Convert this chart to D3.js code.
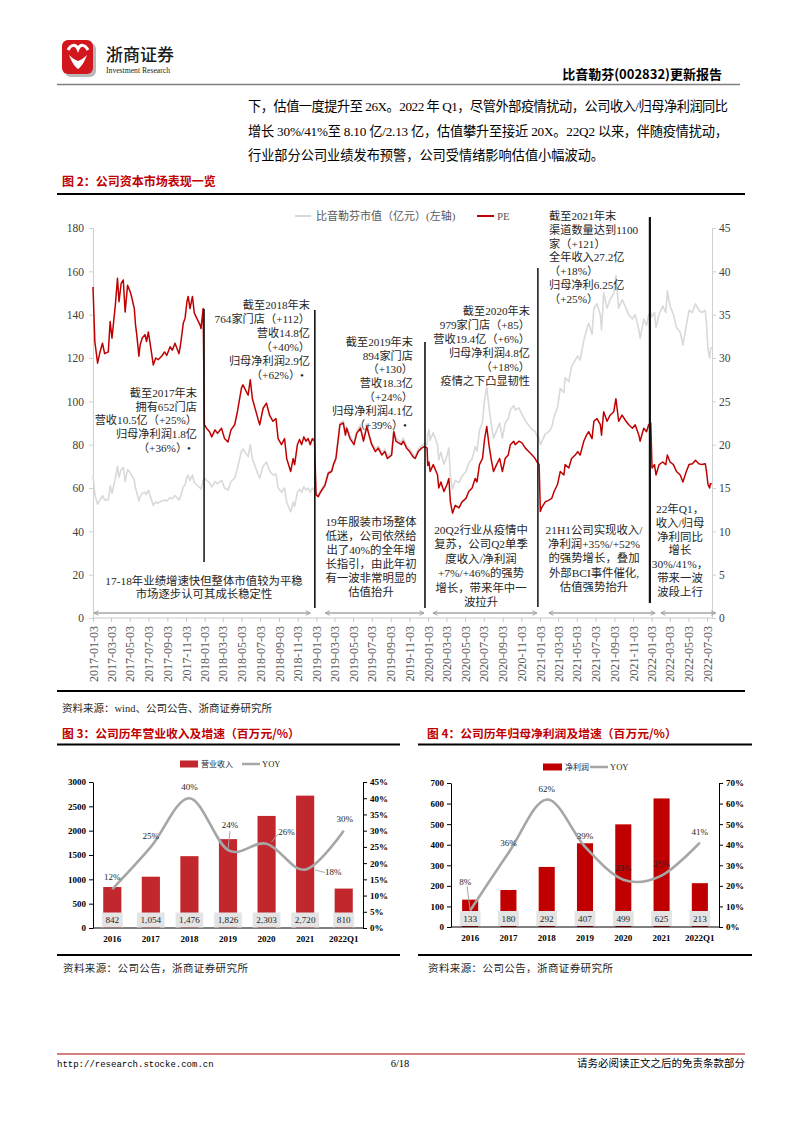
<!DOCTYPE html>
<html><head><meta charset="utf-8">
<script src="https://cdn.jsdelivr.net/npm/d3@7/dist/d3.min.js"></script>
<style>body{margin:0;background:#fff}svg{display:block}</style>
</head><body>
<svg id="page" width="793" height="1122"></svg>
<script>
// ---------------- DATA ----------------
// Figure 2: samples
const tradeDates = [
 // 2017
 "2017-01-03","2017-01-09","2017-01-18","2017-01-26","2017-02-03","2017-02-10","2017-02-22","2017-02-28","2017-03-06","2017-03-17",
 "2017-03-24","2017-03-29","2017-04-05","2017-04-12","2017-04-18","2017-04-26","2017-05-04","2017-05-09","2017-05-18","2017-05-22",
 "2017-05-26","2017-06-02","2017-06-06","2017-06-13","2017-06-22","2017-06-27","2017-07-03","2017-07-12","2017-07-19","2017-07-27",
 "2017-08-04","2017-08-15","2017-08-25","2017-09-01","2017-09-12","2017-09-19","2017-09-28","2017-10-11","2017-10-16","2017-10-25",
 "2017-10-31","2017-11-06","2017-11-10","2017-11-16","2017-11-24","2017-11-30","2017-12-08","2017-12-19","2017-12-22","2017-12-29",
 // 2018
 "2018-01-02","2018-01-09","2018-01-19","2018-01-26","2018-02-06","2018-02-14","2018-02-27","2018-03-09","2018-03-20","2018-03-30",
 "2018-04-11","2018-04-20","2018-05-03","2018-05-08","2018-05-25","2018-06-01","2018-06-08","2018-06-26","2018-07-02","2018-07-13",
 "2018-07-24","2018-08-03","2018-08-14","2018-08-24","2018-08-31","2018-09-11","2018-09-21","2018-09-28","2018-10-11","2018-10-19",
 "2018-10-24","2018-11-02","2018-11-09","2018-11-16","2018-11-23","2018-11-30","2018-12-07","2018-12-14","2018-12-21","2018-12-28",
 // 2019
 "2019-01-02","2019-01-09","2019-01-18","2019-01-31","2019-02-11","2019-02-22","2019-02-28","2019-03-08","2019-03-21","2019-04-01",
 "2019-04-08","2019-04-12","2019-04-23","2019-05-06","2019-05-15","2019-05-27","2019-06-06","2019-06-17","2019-06-24","2019-07-03",
 "2019-07-15","2019-07-24","2019-08-05","2019-08-15","2019-08-23","2019-09-06","2019-09-13","2019-09-20","2019-10-08","2019-10-14",
 "2019-10-25","2019-11-04","2019-11-15","2019-11-22","2019-12-02","2019-12-13","2019-12-23","2019-12-31",
 // 2020
 "2020-01-02","2020-01-06","2020-01-10","2020-01-20","2020-02-03","2020-02-07","2020-02-14","2020-02-24","2020-03-05","2020-03-11",
 "2020-03-16","2020-03-23","2020-04-01","2020-04-13","2020-04-23","2020-05-06","2020-05-15","2020-05-26","2020-06-05","2020-06-11",
 "2020-06-19","2020-06-29","2020-07-06","2020-07-13","2020-07-20","2020-07-27","2020-08-04","2020-08-14","2020-08-24","2020-09-02",
 "2020-09-11","2020-09-21","2020-09-28","2020-10-09","2020-10-14","2020-10-26","2020-11-05","2020-11-16","2020-11-27","2020-12-08",
 "2020-12-18","2020-12-24","2020-12-31",
 // 2021
 "2021-01-04","2021-01-08","2021-01-20","2021-02-01","2021-02-10","2021-02-18","2021-03-01","2021-03-10","2021-03-22","2021-03-26",
 "2021-04-07","2021-04-16","2021-04-28","2021-05-06","2021-05-14","2021-05-26","2021-06-04","2021-06-11","2021-06-22","2021-06-28",
 "2021-07-08","2021-07-19","2021-07-23","2021-07-30","2021-08-10","2021-08-20","2021-09-01","2021-09-08","2021-09-17","2021-09-28",
 "2021-10-11","2021-10-20","2021-11-01","2021-11-10","2021-11-22","2021-11-26","2021-12-08","2021-12-17","2021-12-24","2021-12-31",
 // 2022
 "2022-01-04","2022-01-12","2022-01-17","2022-01-27","2022-02-08","2022-02-18","2022-02-23","2022-03-04","2022-03-15","2022-03-25",
 "2022-04-06","2022-04-15","2022-04-26","2022-05-05","2022-05-16","2022-05-26","2022-06-06","2022-06-16","2022-06-27","2022-07-01",
 "2022-07-06","2022-07-11","2022-07-14","2022-07-18"
];
// 比音勒芬市值（亿元）
const marketCap = [
 66.0,57.0,52.5,54.5,56.5,54.5,54.5,61.0,57.5,64.5, 70.0,65.0,68.5,69.5,63.0,68.5,67.0,66.0,63.5,60.0,
 58.0,54.0,56.0,57.5,58.0,57.0,59.0,55.0,52.0,53.5, 53.0,54.0,54.5,54.0,55.5,55.0,56.5,54.5,56.0,60.5,
 61.5,65.0,66.0,63.5,66.0,62.5,61.5,60.0,59.5,63.5,
 64.5,63.5,62.5,60.5,63.0,62.0,63.5,60.0,59.0,63.0, 64.5,69.0,77.0,78.0,74.5,80.0,73.5,66.5,64.5,70.0,
 72.0,68.0,66.0,66.5,60.0,58.0,60.0,53.5,49.0,53.5, 51.5,58.0,59.5,58.0,60.5,59.0,60.0,58.0,60.0,59.0,
 57.5,57.0,59.0,62.0,67.5,68.5,71.5,74.5,90.0,91.0, 85.5,88.5,84.0,81.0,86.5,89.0,82.5,89.5,85.5,81.0,
 78.0,79.5,76.5,78.0,74.5,76.5,87.0,83.0,81.0,83.0, 79.5,78.0,75.5,74.5,78.0,79.5,80.5,80.0,
 84.5,87.0,82.0,85.5,80.0,73.0,76.5,71.0,75.0,78.5, 65.5,59.5,63.5,62.5,65.5,67.5,71.5,73.5,79.0,77.0,
 86.5,90.5,101.0,106.5,97.5,90.0,83.0,86.5,90.0,83.0, 90.0,92.0,96.0,98.0,96.0,97.0,94.0,91.0,89.0,87.0,
 86.0,84.0,83.0,
 80.0,81.0,85.0,86.0,88.0,93.0,97.0,106.0,104.0,111.0, 109.0,116.0,119.0,121.0,119.0,128.0,133.0,136.0,131.0,143.0,
 145.0,140.0,133.0,150.0,143.0,147.0,150.0,158.0,143.0,147.0, 143.0,140.0,138.0,140.0,133.0,129.0,138.0,135.0,140.0,141.0,
 139.0,141.0,134.0,140.0,144.0,141.0,151.0,144.0,140.0,134.0, 132.0,126.0,135.0,142.0,141.0,145.0,142.0,141.0,142.0,136.0,
 124.0,120.0,124.0,125.0
];
// PE
const peRatio = [
 38.2,31.9,29.4,30.7,31.7,30.5,30.7,34.2,32.3,36.1, 39.2,36.5,38.6,39.0,35.3,38.4,37.7,37.1,35.7,33.8,
 32.7,30.2,31.5,32.3,32.7,31.9,33.0,30.9,29.2,30.0, 29.8,30.2,30.7,30.3,31.3,30.9,31.7,30.5,31.5,34.0,
 34.6,36.5,37.1,35.7,37.1,35.2,34.6,33.8,33.4,35.7,
 22.3,21.9,21.5,20.9,21.7,21.3,21.9,20.7,20.3,21.7, 22.3,23.8,26.5,26.9,25.7,27.5,25.3,23.0,22.3,24.2,
 24.8,23.4,22.7,23.0,20.7,20.0,20.7,18.4,16.9,18.4, 17.7,20.0,20.6,20.0,20.9,20.4,20.7,20.0,20.7,20.4,
 14.2,14.0,14.6,15.3,16.7,16.9,17.7,18.4,22.3,22.5, 21.1,21.9,20.7,20.0,21.3,21.9,20.4,22.1,21.1,20.0,
 19.2,19.6,18.8,19.2,18.4,18.8,21.5,20.4,20.0,20.4, 19.6,19.2,18.6,18.4,19.2,19.6,19.8,19.6,
 17.6,18.0,16.9,17.7,16.5,15.0,15.7,14.6,15.4,16.1, 13.4,12.1,13.0,12.7,13.4,13.8,14.6,15.0,16.1,15.7,
 17.7,18.4,20.7,22.1,20.0,18.4,16.9,17.7,18.4,16.9, 18.4,18.8,20.0,20.4,20.0,20.4,20.2,19.6,19.2,18.8,
 18.4,18.0,17.7,
 12.3,12.7,13.4,13.6,13.8,14.6,15.4,16.9,16.5,17.7, 17.3,18.4,18.8,19.2,18.8,20.4,21.1,21.5,20.7,22.7,
 23.0,22.3,21.1,23.8,22.7,23.4,23.8,25.3,22.7,23.4, 22.7,22.3,21.9,22.3,21.1,20.4,21.9,21.5,22.3,22.5,
 17.3,17.7,16.5,17.7,18.0,17.7,18.8,18.0,17.7,16.9, 16.5,15.7,16.9,17.7,17.8,18.2,17.8,17.7,17.8,16.9,
 15.4,15.0,15.5,15.5
];
const leftTicks = [0,20,40,60,80,100,120,140,160,180];
const rightTicks = [0,5,10,15,20,25,30,35,40,45];
const xTickLabels = ["2017-01-03","2017-03-03","2017-05-03","2017-07-03","2017-09-03","2017-11-03",
 "2018-01-03","2018-03-03","2018-05-03","2018-07-03","2018-09-03","2018-11-03",
 "2019-01-03","2019-03-03","2019-05-03","2019-07-03","2019-09-03","2019-11-03",
 "2020-01-03","2020-03-03","2020-05-03","2020-07-03","2020-09-03","2020-11-03",
 "2021-01-03","2021-03-03","2021-05-03","2021-07-03","2021-09-03","2021-11-03",
 "2022-01-03","2022-03-03","2022-05-03","2022-07-03"];

const ann2017 = ["截至2017年末","拥有652门店","营收10.5亿（+25%）","归母净利润1.8亿","（+36%）•"];
const ann2018 = ["截至2018年末","764家门店（+112）","营收14.8亿","（+40%）","归母净利润2.9亿","（+62%）•"];
const ann2019 = ["截至2019年末","894家门店","（+130）","营收18.3亿","（+24%）","归母净利润4.1亿","（+39%）•"];
const ann2020 = ["截至2020年末","979家门店（+85）","营收19.4亿（+6%）","归母净利润4.8亿","（+18%）","疫情之下凸显韧性"];
const ann2021 = ["截至2021年末","渠道数量达到1100","家（+121）","全年收入27.2亿","（+18%）","归母净利6.25亿","（+25%）"];
const note1 = ["17-18年业绩增速快但整体市值较为平稳","市场逐步认可其成长稳定性"];
const note2 = ["19年服装市场整体","低迷，公司依然给","出了40%的全年增","长指引，由此年初","有一波非常明显的","估值抬升"];
const note3 = ["20Q2行业从疫情中","复苏，公司Q2单季","度收入/净利润","+7%/+46%的强势","增长，带来年中一","波拉升"];
const note4 = ["21H1公司实现收入/","净利润+35%/+52%","的强势增长，叠加","外部BCI事件催化,","估值强势抬升"];
const note5 = ["22年Q1，","收入/归母","净利同比","增长","30%/41%，","带来一波","波段上行"];

// Figures 3 & 4
const years = ["2016","2017","2018","2019","2020","2021","2022Q1"];
const revenue = [842,1054,1476,1826,2303,2720,810];
const revenueYoY = [12,25,40,24,26,18,30];
const netProfit = [133,180,292,407,499,625,213];
const profitYoY = [8,36,62,39,23,25,41];

const paragraph = [
 "下，估值一度提升至 26X。2022 年 Q1，尽管外部疫情扰动，公司收入/归母净利润同比",
 "增长 30%/41%至 8.10 亿/2.13 亿，估值攀升至接近 20X。22Q2 以来，伴随疫情扰动，",
 "行业部分公司业绩发布预警，公司受情绪影响估值小幅波动。"
];

// ---------------- DRAW ----------------
const svg = d3.select("#page");
const SERIF = "'Liberation Serif','Noto Sans CJK SC',serif";
const HEI = "'Noto Sans CJK SC',sans-serif";
const parse = d3.timeParse("%Y-%m-%d");

function txt(x, y, s, o = {}) {
  const t = svg.append("text").attr("x", x).attr("y", y).text(s)
    .attr("font-family", o.ff || SERIF).attr("font-size", o.fs || 11)
    .attr("fill", o.fill || "#262626").attr("text-anchor", o.anchor || "start");
  if (o.fw) t.attr("font-weight", o.fw);
  if (o.dy) t.attr("dy", o.dy);
  if (o.tl) t.attr("textLength", o.tl).attr("lengthAdjust", o.la || "spacing");
  if (o.ls) t.attr("letter-spacing", o.ls);
  return t;
}
function block(lines, x, y0, lh, anchor, fs) {
  lines.forEach((s, i) => {
    const dotted = s.endsWith("•");
    txt(anchor === "end" && dotted ? x - 6 : x, y0 + i * lh, s, {anchor, fs, dy: "0.35em"});
  });
}

// Header
svg.append("rect").attr("x", 65).attr("y", 43).attr("width", 31).attr("height", 34).attr("rx", 6).attr("fill", "#b8b8b8");
svg.append("rect").attr("x", 62).attr("y", 40).attr("width", 31).attr("height", 34).attr("rx", 6).attr("fill", "#D2161E");
svg.append("path").attr("d", "M68,50 C71,44 76,44 78,49 C80,44 85,44 88,50").attr("fill", "none").attr("stroke", "#fff").attr("stroke-width", 3);
svg.append("path").attr("d", "M69,55 C72,63 75,67 78,69 C81,67 84,63 87,55 C84,58 81,60 78,61 C75,60 72,58 69,55 Z").attr("fill", "#fff");
txt(106, 61, "浙商证券", {ff: HEI, fs: 17, fill: "#1a1a1a", fw: 500});
txt(106, 73, "Investment Research", {fs: 9, fill: "#1a1a1a", tl: 64, la: "spacingAndGlyphs"});
txt(722, 79, "比音勒芬(002832)更新报告", {ff: HEI, fs: 13, fw: "bold", fill: "#000", anchor: "end"});
svg.append("line").attr("x1", 57).attr("x2", 740).attr("y1", 84.5).attr("y2", 84.5).attr("stroke", "#808080").attr("stroke-width", 1.5);

// Paragraph
txt(248, 111, paragraph[0], {fs: 13.2, fill: "#000", tl: 480});
txt(248, 136, paragraph[1], {fs: 13.2, fill: "#000", tl: 480});
txt(248, 160, paragraph[2], {fs: 13.2, fill: "#000"});

// Figure 2 title
txt(62, 186, "图 2：公司资本市场表现一览", {ff: HEI, fs: 12, fw: "bold", fill: "#C00000"});
svg.append("line").attr("x1", 57).attr("x2", 745).attr("y1", 194).attr("y2", 194).attr("stroke", "#000").attr("stroke-width", 2.2);

// Scales
const x = d3.scaleTime().domain([parse("2017-01-03"), parse("2022-07-03")]).range([93, 707.1]);
const yL = d3.scaleLinear().domain([0, 180]).range([618, 228]);
const yR = d3.scaleLinear().domain([0, 45]).range([618, 228]);
const series = tradeDates.map((d, i) => ({date: parse(d), mcap: marketCap[i], pe: peRatio[i]}));
if (marketCap.length !== tradeDates.length || peRatio.length !== tradeDates.length)
  console.warn("length mismatch", tradeDates.length, marketCap.length, peRatio.length);

// Axes
const axL = svg.append("g").attr("transform", "translate(93,0)")
  .call(d3.axisLeft(yL).tickValues(leftTicks).tickSize(4).tickSizeOuter(0).tickPadding(5));
const axR = svg.append("g").attr("transform", "translate(712,0)")
  .call(d3.axisRight(yR).tickValues(rightTicks).tickSize(4).tickSizeOuter(0).tickPadding(3));
[axL, axR].forEach(a => {
  a.select(".domain").attr("stroke", "#d0d0d0");
  a.selectAll(".tick line").attr("stroke", "#d0d0d0");
  a.selectAll("text").attr("font-family", SERIF).attr("font-size", 11.5).attr("fill", "#404040");
});
const axB = svg.append("g").attr("transform", "translate(0,618)")
  .call(d3.axisBottom(x).tickValues(xTickLabels.map(parse)).tickSize(4).tickSizeOuter(0).tickFormat((d, i) => xTickLabels[i]));
axB.select(".domain").remove();
axB.selectAll(".tick line").attr("stroke", "#c8c8c8");
axB.selectAll("text").attr("transform", "rotate(-90)").attr("x", -8).attr("y", 0).attr("dy", "0.35em")
  .attr("text-anchor", "end").attr("font-family", SERIF).attr("font-size", 12).attr("fill", "#595959");
svg.append("line").attr("x1", 93).attr("x2", 712).attr("y1", 618).attr("y2", 618).attr("stroke", "#c8c8c8");

// Lines
svg.append("path").datum(series).attr("fill", "none").attr("stroke", "#D9D9D9").attr("stroke-width", 1.6)
  .attr("stroke-linejoin", "round")
  .attr("d", d3.line().x(d => x(d.date)).y(d => yL(d.mcap)));
svg.append("path").datum(series).attr("fill", "none").attr("stroke", "#C00000").attr("stroke-width", 1.5)
  .attr("stroke-linejoin", "round")
  .attr("d", d3.line().x(d => x(d.date)).y(d => yR(d.pe)));

// Legend
svg.append("line").attr("x1", 295).attr("x2", 311).attr("y1", 216).attr("y2", 216).attr("stroke", "#D9D9D9").attr("stroke-width", 2);
txt(316, 216, "比音勒芬市值（亿元）(左轴)", {fs: 11, fill: "#595959", dy: "0.35em"});
svg.append("line").attr("x1", 477).attr("x2", 494).attr("y1", 216).attr("y2", 216).attr("stroke", "#C00000").attr("stroke-width", 2);
txt(497, 216, "PE", {fs: 11, fill: "#595959", dy: "0.35em"});

// Year-end separator lines
const sepLines = [["2018-01-01", 309, 562, 1.5], ["2018-12-29", 310, 608, 1.6], ["2019-12-24", 342, 608, 1.6],
                  ["2020-12-27", 268, 607, 1.5], ["2021-12-28", 217, 603, 2.2]];
sepLines.forEach(([d, y1, y2, w]) => {
  svg.append("line").attr("x1", x(parse(d))).attr("x2", x(parse(d))).attr("y1", y1).attr("y2", y2)
    .attr("stroke", "#111").attr("stroke-width", w);
});

// Period arrows
const defs = svg.append("defs");
defs.append("marker").attr("id", "ah").attr("viewBox", "0 0 8 8").attr("refX", 7).attr("refY", 4)
  .attr("markerWidth", 6).attr("markerHeight", 6).attr("markerUnits", "userSpaceOnUse").attr("orient", "auto-start-reverse")
  .append("path").attr("d", "M1,1 L7,4 L1,7").attr("fill", "none").attr("stroke", "#a0a0a0").attr("stroke-width", 1.3);
const periods = [["2017-01-06", "2018-12-14"], ["2019-02-01", "2019-12-21"], ["2020-01-19", "2020-12-24"],
                 ["2021-02-01", "2022-01-14"], ["2022-02-02", "2022-07-31"]];
periods.forEach(([a, b]) => {
  svg.append("line").attr("x1", x(parse(a))).attr("x2", x(parse(b))).attr("y1", 613).attr("y2", 613)
    .attr("stroke", "#a6a6a6").attr("stroke-width", 1.6)
    .attr("marker-start", "url(#ah)").attr("marker-end", "url(#ah)");
});

// Annotations
block(ann2017, 197, 393.3, 13.6, "end", 11.2);
block(ann2018, 310, 305, 14, "end", 11.2);
block(ann2019, 413, 341.7, 13.9, "end", 11.2);
block(ann2020, 530, 311, 14.1, "end", 11.2);
block(ann2021, 549, 215.7, 13.95, "start", 11.2);
block(note1, 204, 581, 13.5, "middle", 11.4);
block(note2, 371, 522, 14, "middle", 11.4);
block(note3, 481, 530, 14.4, "middle", 11.4);
block(note4, 594, 530, 14.2, "middle", 11.4);
block(note5, 680, 509, 13.8, "middle", 11.4);

// Source line
svg.append("line").attr("x1", 57).attr("x2", 745).attr("y1", 691).attr("y2", 691).attr("stroke", "#000").attr("stroke-width", 2.2);
txt(62, 712, "资料来源：wind、公司公告、浙商证券研究所", {fs: 10.5});

// ---------- Combo charts ----------
function combo(c) {
  txt(c.tx, 738, c.title, {ff: HEI, fs: 11.8, fw: "bold", fill: "#C00000"});
  svg.append("line").attr("x1", c.lx0).attr("x2", c.lx1).attr("y1", 744.5).attr("y2", 744.5).attr("stroke", "#000").attr("stroke-width", 2.2);
  svg.append("line").attr("x1", c.lx0).attr("x2", c.lx1).attr("y1", 955).attr("y2", 955).attr("stroke", "#000").attr("stroke-width", 2.2);
  txt(c.tx + 1, 972, "资料来源：公司公告，浙商证券研究所", {fs: 10.5, ls: 0.4});

  const xb = d3.scaleBand().domain(years).range([c.x0, c.x1]).paddingInner(c.pin).paddingOuter(c.pin / 2);
  const yl = d3.scaleLinear().domain([0, c.lmax]).range([c.yb, c.yt]);
  const yr = d3.scaleLinear().domain([0, c.rmax]).range([c.yb, c.yt]);
  const cx = i => xb(years[i]) + xb.bandwidth() / 2;

  // legend
  const lg = c.legend;
  svg.append("rect").attr("x", lg.rx).attr("y", lg.y - 3.5).attr("width", lg.rw).attr("height", 7).attr("fill", c.color);
  txt(lg.rx + lg.rw + 3, lg.y, c.seriesName, {fs: 8, dy: "0.35em", fill: "#262626"});
  svg.append("line").attr("x1", lg.lx).attr("x2", lg.lx + 18).attr("y1", lg.y).attr("y2", lg.y).attr("stroke", "#A6A6A6").attr("stroke-width", 2.5);
  txt(lg.lx + 20, lg.y, "YOY", {fs: 8.5, dy: "0.35em", fill: "#262626"});

  // bars
  svg.append("g").selectAll("rect").data(c.values).join("rect")
    .attr("x", (d, i) => xb(years[i])).attr("y", d => yl(d)).attr("width", xb.bandwidth())
    .attr("height", d => c.yb - yl(d)).attr("fill", c.color);

  // axes
  const la = svg.append("g").attr("transform", `translate(${c.x0},0)`)
    .call(d3.axisLeft(yl).tickValues(d3.range(0, c.lmax + 1, c.lstep)).tickSize(4).tickSizeOuter(0).tickPadding(3)
      .tickFormat(d3.format("d")));
  const ra = svg.append("g").attr("transform", `translate(${c.x1},0)`)
    .call(d3.axisRight(yr).tickValues(d3.range(0, c.rmax + 0.001, c.rstep)).tickSize(4).tickSizeOuter(0).tickPadding(3)
      .tickFormat(d => d + "%"));
  [la, ra].forEach(a => {
    a.select(".domain").attr("stroke", "#000");
    a.selectAll(".tick line").attr("stroke", "#000");
    a.selectAll("text").attr("font-family", SERIF).attr("font-size", 9).attr("font-weight", "bold").attr("fill", "#000");
  });
  svg.append("line").attr("x1", c.x0).attr("x2", c.x1).attr("y1", c.yb).attr("y2", c.yb).attr("stroke", "#000");
  years.forEach((yv, i) => txt(cx(i), c.yb + 14, yv, {fs: 9, fw: "bold", fill: "#000", anchor: "middle"}));

  // yoy line
  svg.append("path").datum(c.yoy).attr("fill", "none").attr("stroke", "#A6A6A6").attr("stroke-width", 2.6)
    .attr("d", d3.line().x((d, i) => cx(i)).y(d => yr(d)).curve(d3.curveCardinal.tension(0)));

  // value boxes
  c.values.forEach((v, i) => {
    const t = txt(cx(i), c.boxY, d3.format(",")(v), {fs: 9.2, anchor: "middle", dy: "0.35em", fill: "#262626"});
    const w = t.node().getComputedTextLength();
    svg.insert("rect", () => t.node()).attr("x", cx(i) - w / 2 - 3.5).attr("y", c.boxY - 7.5).attr("width", w + 7).attr("height", 15)
      .attr("fill", "#E4E4E4");
  });

  // yoy labels
  c.yoy.forEach((v, i) => {
    const [dx, dy] = c.lblOff[i];
    txt(cx(i) + dx, yr(v) + dy, v + "%", {fs: 9, anchor: "middle", dy: "0.35em", fill: "#262626"});
  });
  c.leaders.forEach(([x1, y1, x2, y2]) => {
    svg.append("line").attr("x1", x1).attr("y1", y1).attr("x2", x2).attr("y2", y2).attr("stroke", "#A6A6A6").attr("stroke-width", 1);
  });
}

combo({
  title: "图 3：公司历年营业收入及增速（百万元/%）", tx: 62, lx0: 57, lx1: 400,
  x0: 93, x1: 363, yt: 782, yb: 928, lmax: 3000, lstep: 500, rmax: 45, rstep: 5, pin: 0.53,
  color: "#C1272D", values: revenue, yoy: revenueYoY, seriesName: "营业收入",
  legend: {rx: 180, rw: 18, lx: 242, y: 764},
  boxY: 920,
  lblOff: [[0, -12], [0, -11], [0, -11], [2, -25], [20, -12], [28, 2], [1, -12]],
  leaders: [[230, 831, 228, 849], [271.5, 842, 278, 834], [315, 870, 325, 872.5]]
});
combo({
  title: "图 4：公司历年归母净利润及增速（百万元/%）", tx: 427, lx0: 418, lx1: 752,
  x0: 451, x1: 719, yt: 783, yb: 927, lmax: 700, lstep: 100, rmax: 70, rstep: 10, pin: 0.58,
  color: "#C00000", values: netProfit, yoy: profitYoY, seriesName: "净利润",
  legend: {rx: 543, rw: 19, lx: 590, y: 767},
  boxY: 918.5,
  lblOff: [[-5, -29], [0, -10], [0, -10.5], [0, -11], [0, -12], [0, -12], [0, -11]],
  leaders: [[467, 886, 470, 909]]
});

// Footer
svg.append("line").attr("x1", 57).attr("x2", 745).attr("y1", 1054).attr("y2", 1054).attr("stroke", "#A50000").attr("stroke-width", 1.2);
txt(57, 1067, "http://research.stocke.com.cn", {ff: "'Liberation Mono',monospace", fs: 9, fill: "#000"});
txt(400, 1067, "6/18", {fs: 10.5, fill: "#000", anchor: "middle"});
txt(745, 1067, "请务必阅读正文之后的免责条款部分", {fs: 10.5, fill: "#000", anchor: "end"});
</script>
</body></html>
